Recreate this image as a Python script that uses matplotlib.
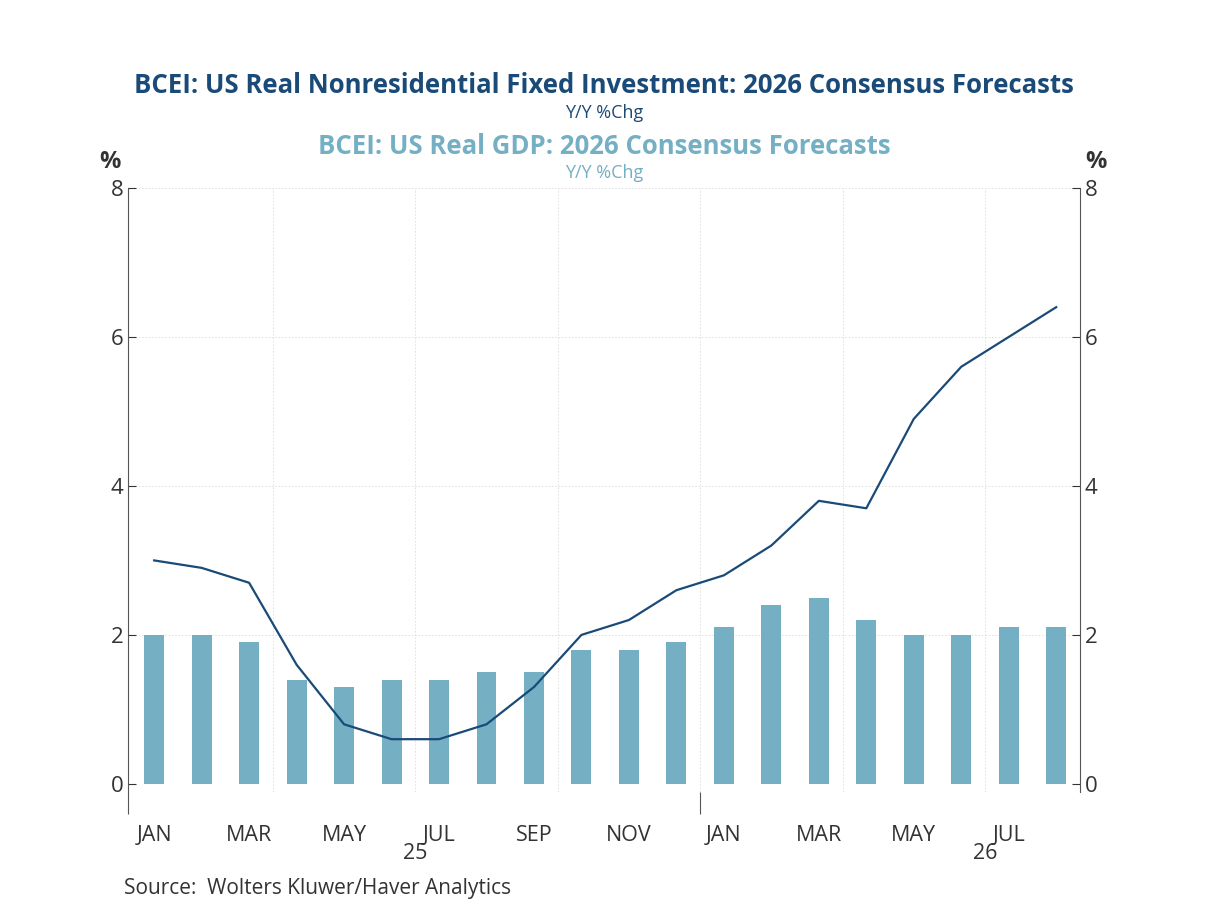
import matplotlib
matplotlib.use("Agg")
import matplotlib.pyplot as plt
import numpy as np

months = ["JAN","FEB","MAR","APR","MAY","JUN","JUL","AUG","SEP","OCT","NOV","DEC",
          "JAN","FEB","MAR","APR","MAY","JUN","JUL","AUG"]
gdp = [2.0,2.0,1.9,1.4,1.3,1.4,1.4,1.5,1.5,1.8,1.8,1.9,2.1,2.4,2.5,2.2,2.0,2.0,2.1,2.1]
nrfi = [3.0,2.9,2.7,1.6,0.8,0.6,0.6,0.8,1.3,2.0,2.2,2.6,2.8,3.2,3.8,3.7,4.9,5.6,6.0,6.4]
years = ["25","26"]

navy = "#1a4a78"
light = "#74afc4"
plt.rcParams['font.family'] = ['Open Sans', 'DejaVu Sans']

fig = plt.figure(figsize=(12.08, 9.06), dpi=100)
ax = fig.add_axes([0.106, 0.126, 0.788, 0.6665])
x = np.arange(len(months))
ax.bar(x, gdp, width=0.42, color=light, zorder=2)
ax.plot(x, nrfi, color=navy, lw=1.6, zorder=3)
ax.set_xlim(-0.55, 19.5)
ax.set_ylim(-0.107, 8)
ax.set_yticks([0,2,4,6,8])
ax.tick_params(axis='y', labelsize=16, colors='#333333', direction='in', length=6, labelright=True, right=True)
for sp in ['top','bottom']:
    ax.spines[sp].set_visible(False)
for sp in ['left','right']:
    ax.spines[sp].set_color('#555555')
ax.set_xticks([-0.55, 11.5])
ax.set_xticklabels([])
ax.tick_params(axis='x', which='major', length=16, color='#555555', direction='out')
ax.set_xticks(x[::2], minor=True)
ax.set_xticklabels(months[::2], minor=True, fontsize=15.5, color='#333333')
ax.tick_params(axis='x', which='minor', length=0, pad=24)
for g in [2.5,5.5,8.5,11.5,14.5,17.5]:
    ax.axvline(g, color='#dddddd', lw=0.6, ls=(0,(2,2)), zorder=0)
for yv in [2,4,6,8]:
    ax.axhline(yv, color='#dddddd', lw=0.6, ls=(0,(2,2)), zorder=0)
ax.text(5.5, -0.8, years[0], ha='center', va='top', fontsize=15.5, color='#333333')
ax.text(17.5, -0.8, years[1], ha='center', va='top', fontsize=15.5, color='#333333')

fig.text(0.091, 0.815, "%", fontsize=17, fontweight='bold', color='#333333', ha='center')
fig.text(0.907, 0.815, "%", fontsize=17, fontweight='bold', color='#333333', ha='center')
fig.text(0.5, 0.897, "BCEI: US Real Nonresidential Fixed Investment: 2026 Consensus Forecasts",
         ha='center', fontsize=18.5, fontweight='bold', color=navy)
fig.text(0.5, 0.87, "Y/Y %Chg", ha='center', fontsize=13, color=navy)
fig.text(0.5, 0.83, "BCEI: US Real GDP: 2026 Consensus Forecasts",
         ha='center', fontsize=18.5, fontweight='bold', color=light)
fig.text(0.5, 0.803, "Y/Y %Chg", ha='center', fontsize=13, color=light)
fig.text(0.103, 0.013, "Source:  Wolters Kluwer/Haver Analytics", fontsize=15, color='#333333')
fig.savefig("out.png", dpi=100)
